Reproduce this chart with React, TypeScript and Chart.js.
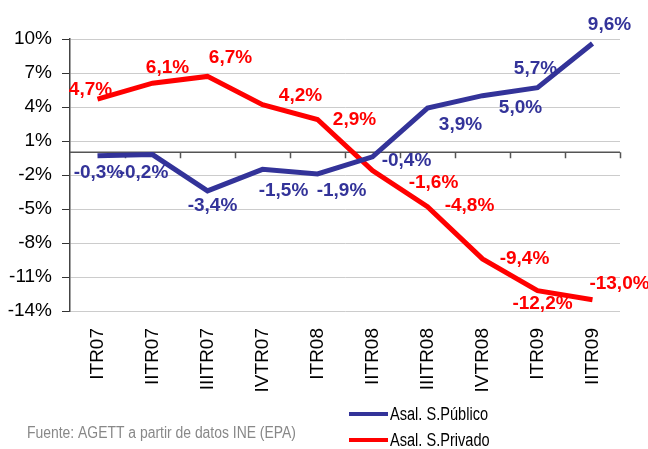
import React, { useEffect, useRef } from "react";
import { Chart, registerables } from "chart.js";

Chart.register(...registerables);

const categories = ["ITR07", "IITR07", "IIITR07", "IVTR07", "ITR08", "IITR08", "IIITR08", "IVTR08", "ITR09", "IITR09"];
const publico = [-0.3, -0.2, -3.4, -1.5, -1.9, -0.4, 3.9, 5.0, 5.7, 9.6];
const privado = [4.7, 6.1, 6.7, 4.2, 2.9, -1.6, -4.8, -9.4, -12.2, -13.0];
const seriesNames = ["Asal. S.Público", "Asal. S.Privado"];
const sourceNote = "Fuente: AGETT a partir de datos INE (EPA)";
const yMin = -14;
const yMax = 10;
const yStep = 3;

// label offsets (px) relative to each point
const publicoLabelOffsets = [[1, 17], [-9, 18], [5, 15], [21, 21], [24, 17], [34, 4], [33, 17], [38, 12], [-2, -19], [17, -19]];
const privadoLabelOffsets = [[-7, -9], [15, -15], [23, -19], [38, -9], [37, 0], [61, 12], [42, -1], [42, 0], [5, 13], [27, -16]];

const BLUE = "#333399";
const RED = "#ff0000";
const FONT = "'Liberation Sans', Arial, sans-serif";

const fmt = (v: number) => v.toFixed(1).replace(".", ",") + "%";

function condensedText(ctx: CanvasRenderingContext2D, text: string, x: number, y: number, sx: number) {
  ctx.save();
  ctx.translate(x, y);
  ctx.scale(sx, 1);
  ctx.fillText(text, 0, 0);
  ctx.restore();
}

const decorPlugin = {
  id: "decor",
  beforeDatasetsDraw(chart: any) {
    const { ctx, chartArea, scales } = chart;
    const y0 = scales.y.getPixelForValue(0);
    ctx.save();
    ctx.strokeStyle = "#555555";
    ctx.lineWidth = 1.5;
    ctx.beginPath();
    ctx.moveTo(chartArea.left, y0);
    ctx.lineTo(chartArea.right, y0);
    const n = categories.length;
    const w = (chartArea.right - chartArea.left) / n;
    for (let i = 1; i <= n; i++) {
      const x = Math.round(chartArea.left + i * w) + 0.5;
      ctx.moveTo(x, y0);
      ctx.lineTo(x, y0 + 6);
    }
    ctx.stroke();
    ctx.restore();
  },
  afterDatasetsDraw(chart: any) {
    const { ctx } = chart;
    const offsets = [publicoLabelOffsets, privadoLabelOffsets];
    ctx.save();
    ctx.font = `bold 19px ${FONT}`;
    ctx.textAlign = "center";
    ctx.textBaseline = "middle";
    chart.data.datasets.forEach((ds: any, di: number) => {
      const meta = chart.getDatasetMeta(di);
      ctx.fillStyle = ds.borderColor;
      meta.data.forEach((pt: any, i: number) => {
        const [dx, dy] = offsets[di][i];
        ctx.fillText(fmt(ds.data[i]), pt.x + dx, pt.y + dy);
      });
    });
    ctx.restore();
  },
  afterDraw(chart: any) {
    const { ctx } = chart;
    ctx.save();
    // legend
    const legendY = [414, 440];
    chart.data.datasets.forEach((ds: any, di: number) => {
      const y = legendY[di];
      ctx.strokeStyle = ds.borderColor;
      ctx.lineWidth = 4;
      ctx.beginPath();
      ctx.moveTo(349, y);
      ctx.lineTo(388, y);
      ctx.stroke();
      ctx.fillStyle = "#000000";
      ctx.font = `18px ${FONT}`;
      ctx.textAlign = "left";
      ctx.textBaseline = "middle";
      condensedText(ctx, ds.label, 390, y + 1, 0.81);
    });
    // source
    ctx.fillStyle = "#888888";
    ctx.font = `16px ${FONT}`;
    ctx.textAlign = "left";
    ctx.textBaseline = "middle";
    condensedText(ctx, sourceNote, 27, 434, 0.87);
    ctx.restore();
  },
};

export default function App() {
  const ref = useRef<HTMLCanvasElement>(null);
  useEffect(() => {
    document.body.style.margin = "0";
    const chart = new Chart(ref.current as HTMLCanvasElement, {
      type: "line",
      data: {
        labels: categories,
        datasets: [
          { label: seriesNames[0], data: publico, borderColor: BLUE, backgroundColor: BLUE, borderWidth: 5, pointRadius: 0, tension: 0 },
          { label: seriesNames[1], data: privado, borderColor: RED, backgroundColor: RED, borderWidth: 5, pointRadius: 0, tension: 0 },
        ],
      },
      options: {
        animation: false,
        responsive: true,
        maintainAspectRatio: false,
        layout: { padding: { left: 0, right: 28, top: 39, bottom: 0 } },
        plugins: { legend: { display: false }, tooltip: { enabled: false } },
        scales: {
          x: {
            type: "category",
            offset: true,
            grid: { display: false },
            border: { display: false },
            ticks: { maxRotation: 90, minRotation: 90, autoSkip: false, padding: 9, color: "#000000", font: { family: FONT, size: 19 } },
            afterFit: (s: any) => { s.height = 138; },
          },
          y: {
            min: yMin,
            max: yMax,
            ticks: { stepSize: yStep, padding: 10, color: "#000000", font: { family: FONT, size: 19 }, callback: (v: any) => `${v}%` },
            grid: { color: "#cccccc", tickColor: "#333333", tickLength: 8, lineWidth: 1 },
            border: { color: "#444444", width: 1.5 },
            afterFit: (s: any) => { s.width = 70; },
          },
        },
      },
      plugins: [decorPlugin],
    });
    return () => chart.destroy();
  }, []);
  return (
    <div style={{ width: 648, height: 449, position: "relative" }}>
      <canvas ref={ref} />
    </div>
  );
}
